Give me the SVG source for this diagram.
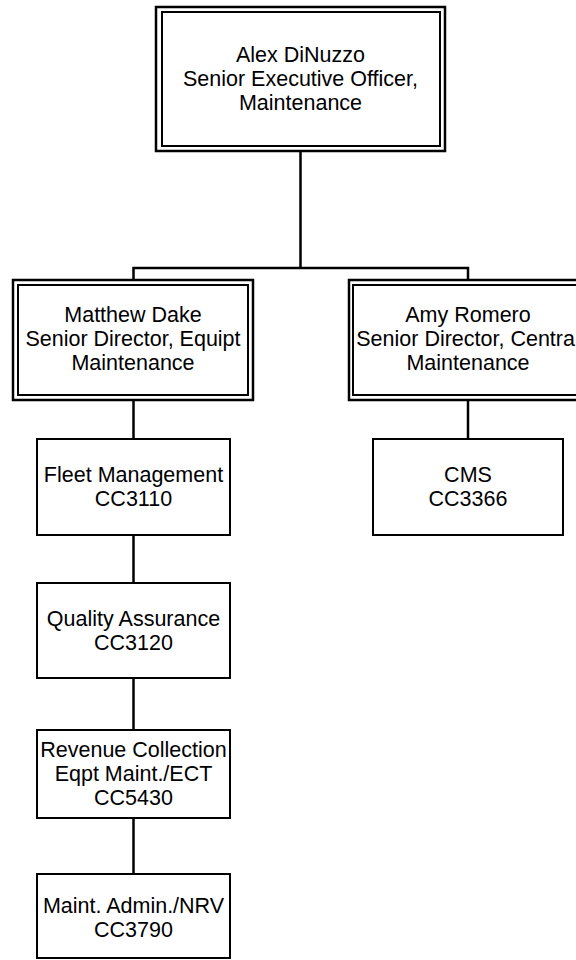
<svg xmlns="http://www.w3.org/2000/svg" width="576" height="960" viewBox="0 0 576 960">
<style>
.bg{fill:#ffffff}
.box{fill:#ffffff;stroke:#000000;stroke-width:2}
.outer{fill:#ffffff;stroke:#000000;stroke-width:2.5}
.inner{fill:none;stroke:#000000;stroke-width:2}
.conn{fill:none;stroke:#000000;stroke-width:2.5}
text{font-family:"Liberation Sans",Arial,sans-serif;font-size:21.5px;fill:#000000;text-anchor:middle}
</style>
<rect class="bg" x="0" y="0" width="576" height="960"/>
<g id="connectors">
<path class="conn" d="M300.5,151 V268"/>
<path class="conn" d="M133.5,280 V268 H468 V280"/>
<path class="conn" d="M133.5,400 V439"/>
<path class="conn" d="M468,400 V439"/>
<path class="conn" d="M133.5,535 V583"/>
<path class="conn" d="M133.5,678 V730"/>
<path class="conn" d="M133.5,818 V874"/>
</g>
<g id="alex">
<rect class="outer" x="156" y="7" width="289" height="144"/>
<rect class="inner" x="162" y="12" width="278" height="134"/>
<text x="300.5" y="62">Alex DiNuzzo</text>
<text x="300.5" y="86">Senior Executive Officer,</text>
<text x="300.5" y="110">Maintenance</text>
</g>
<g id="matthew">
<rect class="outer" x="13" y="280" width="240" height="120"/>
<rect class="inner" x="18" y="285" width="230" height="110"/>
<text x="133" y="322">Matthew Dake</text>
<text x="133" y="346">Senior Director, Equipt</text>
<text x="133" y="370">Maintenance</text>
</g>
<g id="amy">
<rect class="outer" x="349" y="280" width="240" height="120"/>
<rect class="inner" x="353" y="285" width="231" height="110"/>
<text x="468" y="322">Amy Romero</text>
<text x="468" y="346">Senior Director, Central</text>
<text x="468" y="370">Maintenance</text>
</g>
<g id="fleet">
<rect class="box" x="37" y="439" width="193" height="96"/>
<text x="133.5" y="482">Fleet Management</text>
<text x="133.5" y="506">CC3110</text>
</g>
<g id="cms">
<rect class="box" x="373" y="439" width="190" height="96"/>
<text x="468" y="482">CMS</text>
<text x="468" y="506">CC3366</text>
</g>
<g id="quality">
<rect class="box" x="37" y="583" width="193" height="95"/>
<text x="133.5" y="626">Quality Assurance</text>
<text x="133.5" y="650">CC3120</text>
</g>
<g id="revenue">
<rect class="box" x="37" y="730" width="193" height="88"/>
<text x="133.5" y="757">Revenue Collection</text>
<text x="133.5" y="781">Eqpt Maint./ECT</text>
<text x="133.5" y="805">CC5430</text>
</g>
<g id="admin">
<rect class="box" x="37" y="874" width="193" height="84"/>
<text x="133.5" y="913">Maint. Admin./NRV</text>
<text x="133.5" y="937">CC3790</text>
</g>
</svg>
